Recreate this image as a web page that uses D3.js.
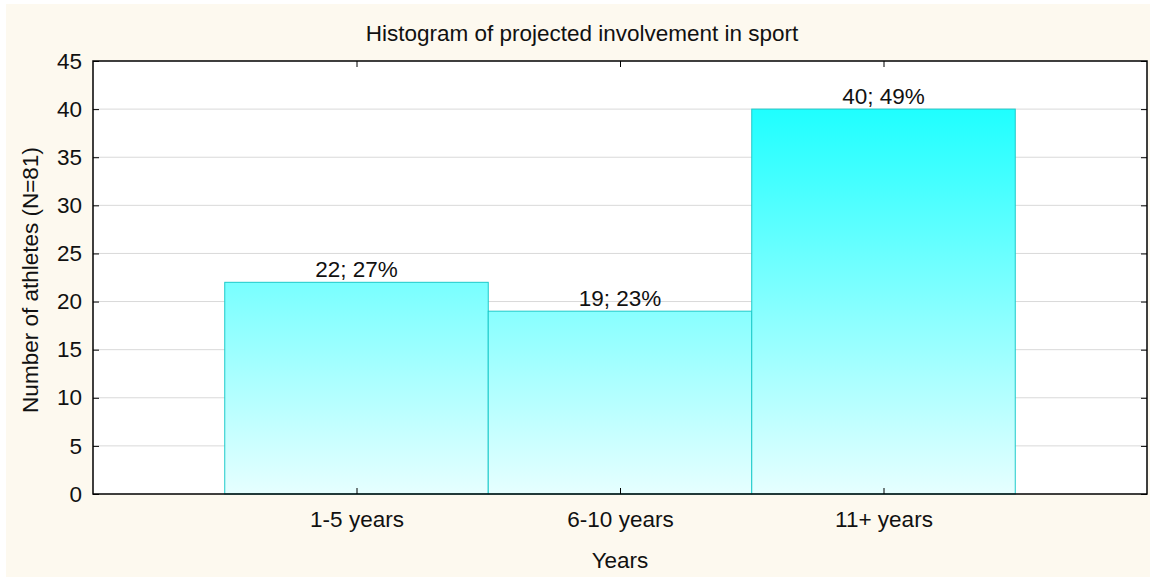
<!DOCTYPE html>
<html>
<head>
<meta charset="utf-8">
<script src="https://cdn.jsdelivr.net/npm/d3@7"></script>
<style>
  body { margin: 0; background: #ffffff; }
  text { font-family: "Liberation Sans", Arial, sans-serif; fill: #111; }
</style>
</head>
<body>
<script>
// histogram data
var categories = ["1-5 years", "6-10 years", "11+ years"];
var counts = [22, 19, 40];
var percents = [27, 23, 49];
var yTicks = [0, 5, 10, 15, 20, 25, 30, 35, 40, 45];

var w = 1150, h = 578;
var plotLeft = 93, plotRight = 1147, plotTop = 61, plotBottom = 494;
var fontSize = "22.5px";

var svg = d3.select("body").append("svg")
  .attr("width", w)
  .attr("height", h);

// cream background
svg.append("rect")
  .attr("x", 6).attr("y", 4)
  .attr("width", w - 6).attr("height", h - 5)
  .attr("fill", "#fdf9ef");

// scales
var x = d3.scaleLinear().domain([0, categories.length + 1]).range([plotLeft, plotRight]);
var y = d3.scaleLinear().domain([0, 45]).range([plotBottom, plotTop]);

// plot area
svg.append("rect")
  .attr("x", plotLeft).attr("y", plotTop)
  .attr("width", plotRight - plotLeft).attr("height", plotBottom - plotTop)
  .attr("fill", "#ffffff");

// grid lines
svg.selectAll("line.grid")
  .data(yTicks.filter(function(d) { return d > 0 && d < 45; }))
  .enter().append("line")
  .attr("class", "grid")
  .attr("x1", plotLeft).attr("x2", plotRight)
  .attr("y1", function(d) { return y(d); })
  .attr("y2", function(d) { return y(d); })
  .attr("stroke", "#d9d9d9")
  .attr("stroke-width", 1);

// gradient, tied to the y scale so taller bars get darker tops
var defs = svg.append("defs");
var grad = defs.append("linearGradient")
  .attr("id", "barGrad")
  .attr("gradientUnits", "userSpaceOnUse")
  .attr("x1", 0).attr("x2", 0)
  .attr("y1", y(0)).attr("y2", y(45));
grad.append("stop").attr("offset", "0%").attr("stop-color", "#e6ffff");
grad.append("stop").attr("offset", "100%").attr("stop-color", "#06ffff");

// bars
svg.selectAll("rect.bar")
  .data(counts)
  .enter().append("rect")
  .attr("class", "bar")
  .attr("x", function(d, i) { return x(i + 0.5); })
  .attr("width", function(d, i) { return x(i + 1.5) - x(i + 0.5); })
  .attr("y", function(d) { return y(d); })
  .attr("height", function(d) { return y(0) - y(d); })
  .attr("fill", "url(#barGrad)")
  .attr("stroke", "#1ccaca")
  .attr("stroke-width", 1);

// bar labels
svg.selectAll("text.val")
  .data(counts)
  .enter().append("text")
  .attr("class", "val")
  .attr("x", function(d, i) { return x(i + 1); })
  .attr("y", function(d) { return y(d) - 5; })
  .attr("text-anchor", "middle")
  .style("font-size", fontSize)
  .text(function(d, i) { return d + "; " + percents[i] + "%"; });

// axes (ticks point inward)
var yAxisL = d3.axisLeft(y).tickValues(yTicks).tickSize(-6).tickPadding(11);
var yAxisR = d3.axisRight(y).tickValues(yTicks).tickSize(-6).tickFormat("");
var xIdx = categories.map(function(d, i) { return i + 1; });
var xAxisB = d3.axisBottom(x).tickValues(xIdx).tickSize(-6).tickPadding(17)
  .tickFormat(function(d) { return categories[d - 1]; });
var xAxisT = d3.axisTop(x).tickValues(xIdx).tickSize(-6).tickFormat("");

function styleAxis(g) {
  g.select(".domain").remove();
  g.selectAll("line").attr("stroke", "#000");
  g.selectAll("text").style("font-size", fontSize)
    .style("font-family", "'Liberation Sans', Arial, sans-serif").attr("fill", "#111");
}

svg.append("g").attr("transform", "translate(" + plotLeft + ",0)").call(yAxisL).call(styleAxis);
svg.append("g").attr("transform", "translate(" + plotRight + ",0)").call(yAxisR).call(styleAxis);
svg.append("g").attr("transform", "translate(0," + plotBottom + ")").call(xAxisB).call(styleAxis);
svg.append("g").attr("transform", "translate(0," + plotTop + ")").call(xAxisT).call(styleAxis);

// frame
svg.append("rect")
  .attr("x", plotLeft).attr("y", plotTop)
  .attr("width", plotRight - plotLeft).attr("height", plotBottom - plotTop)
  .attr("fill", "none")
  .attr("stroke", "#000")
  .attr("stroke-width", 1.5);

// title
svg.append("text")
  .attr("x", 582)
  .attr("y", 41)
  .attr("text-anchor", "middle")
  .style("font-size", fontSize)
  .text("Histogram of projected involvement in sport");

// x axis label
svg.append("text")
  .attr("x", (plotLeft + plotRight) / 2)
  .attr("y", 568)
  .attr("text-anchor", "middle")
  .style("font-size", fontSize)
  .text("Years");

// y axis label
svg.append("text")
  .attr("transform", "rotate(-90)")
  .attr("x", -280)
  .attr("y", 38)
  .attr("text-anchor", "middle")
  .style("font-size", fontSize)
  .text("Number of athletes (N=81)");
</script>
</body>
</html>
